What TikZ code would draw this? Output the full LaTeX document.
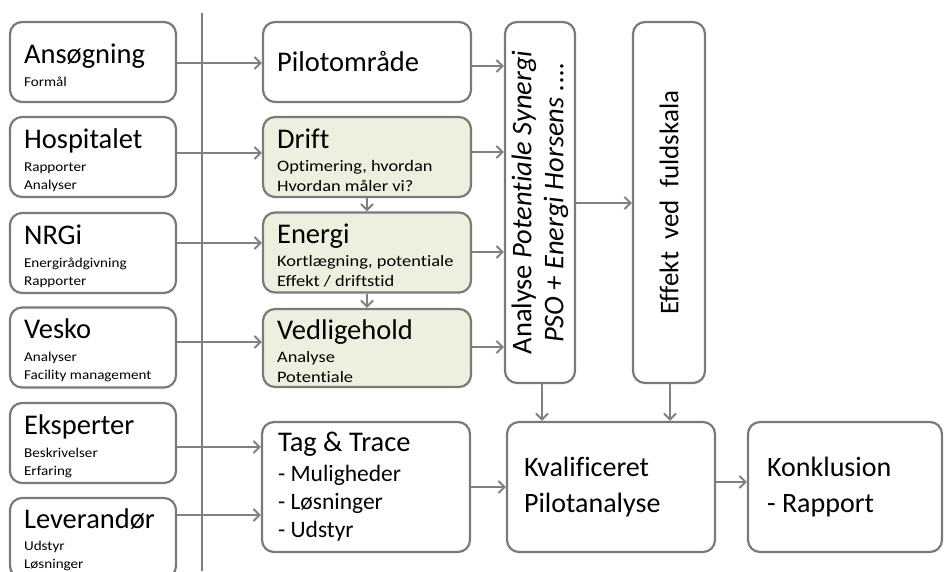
\documentclass[tikz,border=0pt]{standalone}
\usepackage{fontspec}
\setmainfont{Carlito}[Ligatures=NoCommon]
\newfontfamily\smallfam{Carlito}[FakeStretch=1.12,Ligatures=NoCommon]
\newfontfamily\midfam{Carlito}[FakeStretch=1.15,Ligatures=NoCommon]
\usetikzlibrary{arrows.meta}
\definecolor{bordergray}{HTML}{7A7A7A}
\definecolor{arrowgray}{HTML}{808080}
\definecolor{greenfill}{HTML}{EBF1DE}
\newcommand\ttl[1]{{\normalfont\fontsize{28.5}{28.5}\selectfont #1}}
\begin{document}
\begin{tikzpicture}[x=1pt,y=-1pt,
  box/.style={draw=bordergray, line width=2.2pt, rounded corners=12pt, fill=white, inner sep=0pt},
  greenbox/.style={box, fill=greenfill},
  leftbox/.style={box, minimum width=166pt, minimum height=80pt},
  midbox/.style={greenbox, minimum width=208pt, minimum height=80pt},
  txt/.style={anchor=west, align=left, inner sep=0pt, text=black},
  lefttxt/.style={txt, yshift=-3pt, font=\smallfam\fontsize{13.5}{18}\selectfont},
  midtxt/.style={txt, yshift=-3pt, font=\midfam\fontsize{16}{20}\selectfont},
  arr/.style={draw=arrowgray, line width=2pt, -{Straight Barb[length=6pt,width=12pt,line width=2pt]}},
]
\clip (0,0) rectangle (946,571);
\fill[white] (0,0) rectangle (946,571);

% vertical separator
\coordinate (vtop) at (202,13);
\coordinate (vbot) at (202,571);
\draw[draw=arrowgray, line width=2pt] (vtop) -- (vbot);

% left column
\node[leftbox] (ans) at (93,62) {};
\node[leftbox] (hosp) at (93,157) {};
\node[leftbox] (nrgi) at (93,253) {};
\node[leftbox] (vesko) at (93,347.5) {};
\node[leftbox] (eksp) at (93,443) {};
\node[leftbox] (lev) at (93,538) {};

\node[lefttxt] (ans-t) at ([xshift=15pt]ans.west) {\ttl{Ansøgning}\\[5pt] Formål};
\node[lefttxt] (hosp-t) at ([xshift=15pt]hosp.west) {\ttl{Hospitalet}\\[5pt] Rapporter\\ Analyser};
\node[lefttxt] (nrgi-t) at ([xshift=15pt]nrgi.west) {\ttl{NRGi}\\[5pt] Energirådgivning\\ Rapporter};
\node[lefttxt] (vesko-t) at ([xshift=15pt]vesko.west) {\ttl{Vesko}\\[5pt] Analyser\\ Facility management};
\node[lefttxt] (eksp-t) at ([xshift=15pt]eksp.west) {\ttl{Eksperter}\\[5pt] Beskrivelser\\ Erfaring};
\node[lefttxt, yshift=1pt] (lev-t) at ([xshift=15pt]lev.west) {\ttl{Leverandør}\\[4pt] Udstyr\\ Løsninger};

% middle column
\node[box, minimum width=208pt, minimum height=80pt] (pilot) at (367,62) {};
\node[midbox] (drift) at (367,157) {};
\node[midbox] (energi) at (367,252.5) {};
\node[midbox, minimum height=78pt] (vedl) at (367,348) {};

\node[txt] (pilot-t) at ([xshift=15pt]pilot.west) {\ttl{Pilotområde}};
\node[midtxt] (drift-t) at ([xshift=15pt]drift.west) {\ttl{Drift}\\[3pt] Optimering, hvordan\\ Hvordan måler vi?};
\node[midtxt] (energi-t) at ([xshift=15pt]energi.west) {\ttl{Energi}\\[3pt] Kortlægning, potentiale\\ Effekt / driftstid};
\node[midtxt] (vedl-t) at ([xshift=15pt]vedl.west) {\ttl{Vedligehold}\\[3pt] Analyse\\ Potentiale};

% tall boxes
\node[box, minimum width=70pt, minimum height=361pt] (analyse) at (540,202.5) {};
\node[box, minimum width=72pt, minimum height=361pt] (effekt) at (669,202.5) {};
\node[rotate=90, align=center, inner sep=0pt, font=\fontsize{28.5}{32}\selectfont] (analyse-t) at (analyse.center)
  {Analyse \textit{Potentiale Synergi}\\ \textit{PSO + Energi Horsens ....}};
\node[rotate=90, inner sep=0pt, font=\fontsize{27}{31}\selectfont] (effekt-t) at (effekt.center)
  {Effekt\ \ ved\ \ fuldskala};

% bottom row
\node[box, minimum width=208pt, minimum height=130pt] (tag) at (366,487) {};
\node[box, minimum width=208pt, minimum height=130pt] (kval) at (611,487) {};
\node[box, minimum width=194pt, minimum height=130pt] (konk) at (845,487) {};

\node[txt, font=\fontsize{23.5}{28}\selectfont] (tag-t) at ([xshift=17pt]tag.west) {\ttl{Tag \& Trace}\\[2pt] - Muligheder\\ - Løsninger\\ - Udstyr};
\node[txt, font=\fontsize{28}{36}\selectfont] (kval-t) at ([xshift=18pt]kval.west) {Kvalificeret\\ Pilotanalyse};
\node[txt, font=\fontsize{28}{36}\selectfont] (konk-t) at ([xshift=20pt]konk.west) {Konklusion\\ - Rapport};

% connectors left -> middle
\draw[arr] (ans.east |- 0,63) -- (pilot.west |- 0,63);
\draw[arr] (hosp.east |- 0,153) -- (drift.west |- 0,153);
\draw[arr] (nrgi.east |- 0,243) -- (energi.west |- 0,243);
\draw[arr] (vesko.east |- 0,342) -- (vedl.west |- 0,342);
\draw[arr] (eksp.east |- 0,447) -- (tag.west |- 0,447);
\draw[arr] (lev.east |- 0,515) -- (tag.west |- 0,515);

% middle -> analyse
\draw[arr] (pilot.east |- 0,66) -- (analyse.west |- 0,66);
\draw[arr] (drift.east |- 0,152) -- (analyse.west |- 0,152);
\draw[arr] (energi.east |- 0,252) -- (analyse.west |- 0,252);
\draw[arr] (vedl.east |- 0,347) -- (analyse.west |- 0,347);

% vertical links in middle column
\draw[arr] (drift.south) -- (energi.north);
\draw[arr] (energi.south) -- (vedl.north);

% analyse -> effekt, down to kval
\draw[arr] (analyse.east |- 0,203) -- (effekt.west |- 0,203);
\draw[arr] (analyse.south -| 542,0) -- (kval.north -| 542,0);
\draw[arr] (effekt.south -| 670,0) -- (kval.north -| 670,0);

% bottom row
\draw[arr] (tag.east |- 0,487) -- (kval.west |- 0,487);
\draw[arr] (kval.east |- 0,482) -- (konk.west |- 0,482);
\end{tikzpicture}
\end{document}
